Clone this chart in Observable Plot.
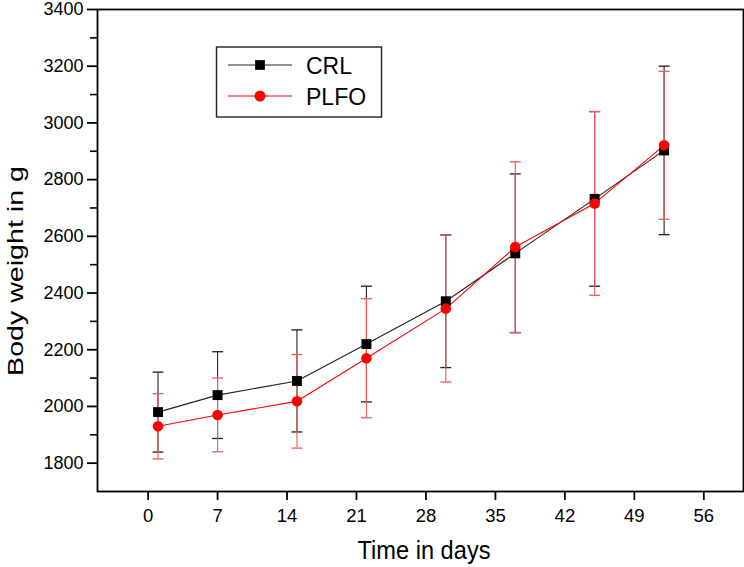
<!DOCTYPE html>
<html>
<head>
<meta charset="utf-8">
<script src="https://cdn.jsdelivr.net/npm/d3@7"></script>
<script src="https://cdn.jsdelivr.net/npm/@observablehq/plot@0.6"></script>
<style>
  body { margin: 0; background: #fff; }
  #wrap { position: relative; width: 744px; height: 567px; font-family: "Liberation Sans", Arial, sans-serif; }
  #legend { position: absolute; left: 0; top: 0; }
</style>
</head>
<body>
<div id="wrap"></div>
<script>
// ---- data ----
const days = [1, 7, 15, 22, 30, 37, 45, 52];
const crlMean = [1980, 2040, 2090, 2220, 2371, 2540, 2732, 2903];
const crlSD = [141, 153, 180, 204, 234, 280, 308, 297];
const plfoMean = [1930, 1970, 2018, 2170, 2345, 2562, 2716, 2921];
const plfoSD = [115, 130, 165, 210, 259, 301, 324, 261];
const seriesNames = ["CRL", "PLFO"];
const xTicks = [0, 7, 14, 21, 28, 35, 42, 49, 56];
const yTicks = [1800, 2000, 2200, 2400, 2600, 2800, 3000, 3200, 3400];
const yMinor = [1900, 2100, 2300, 2500, 2700, 2900, 3100, 3300];
const xTitle = "Time in days";
const yTitle = "Body weight in g";

const crl = days.map((d, i) => ({day: d, mean: crlMean[i], lo: crlMean[i] - crlSD[i], hi: crlMean[i] + crlSD[i]}));
const plfo = days.map((d, i) => ({day: d, mean: plfoMean[i], lo: plfoMean[i] - plfoSD[i], hi: plfoMean[i] + plfoSD[i]}));

const capSymbol = {
  draw(ctx, size) {
    const w = Math.sqrt(size / Math.PI);
    ctx.moveTo(-w, 0);
    ctx.lineTo(w, 0);
  }
};

const black = "#000000";
const blackErr = "#222222";
const red = "#ff0000";
const redErr = "#f25a5a";

const chart = Plot.plot({
  width: 744,
  height: 567,
  marginLeft: 97,
  marginRight: 1,
  marginTop: 9,
  marginBottom: 76,
  style: {fontFamily: "'Liberation Sans', Arial, sans-serif", background: "#fff", color: "#000"},
  x: {domain: [-5.1, 60], ticks: xTicks},
  y: {domain: [1700, 3400], ticks: yTicks},
  marks: [
    Plot.axisX({ticks: xTicks, tickSize: 9, tickPadding: 8, fontSize: 18.5, label: null, strokeWidth: 1.8, stroke: "#000", tickFormat: d3.format("d")}),
    Plot.axisY({ticks: yTicks, tickSize: 10, tickPadding: 4, fontSize: 18, label: null, strokeWidth: 1.8, stroke: "#000", tickFormat: d3.format("d")}),
    Plot.axisY({ticks: yMinor, tickSize: 7, text: null, label: null, strokeWidth: 1.6, stroke: "#000"}),
    // CRL error bars
    Plot.ruleX(crl, {x: "day", y1: "lo", y2: "hi", stroke: blackErr, strokeWidth: 1.1}),
    Plot.dot(crl, {x: "day", y: "lo", symbol: capSymbol, r: 5.5, stroke: blackErr, strokeWidth: 1.3, fill: "none"}),
    Plot.dot(crl, {x: "day", y: "hi", symbol: capSymbol, r: 5.5, stroke: blackErr, strokeWidth: 1.3, fill: "none"}),
    // PLFO error bars
    Plot.ruleX(plfo, {x: "day", y1: "lo", y2: "hi", stroke: redErr, strokeWidth: 1.1}),
    Plot.dot(plfo, {x: "day", y: "lo", symbol: capSymbol, r: 5.5, stroke: redErr, strokeWidth: 1.3, fill: "none"}),
    Plot.dot(plfo, {x: "day", y: "hi", symbol: capSymbol, r: 5.5, stroke: redErr, strokeWidth: 1.3, fill: "none"}),
    // lines
    Plot.line(crl, {x: "day", y: "mean", stroke: "#222", strokeWidth: 1.1}),
    Plot.line(plfo, {x: "day", y: "mean", stroke: red, strokeWidth: 1.1}),
    // markers
    Plot.dot(crl, {x: "day", y: "mean", symbol: "square", r: 5.6, fill: black, stroke: "none"}),
    Plot.dot(plfo, {x: "day", y: "mean", symbol: "circle", r: 5.3, fill: red, stroke: "none"}),
    Plot.frame({stroke: "#000", strokeWidth: 1.8})
  ]
});

const wrap = document.getElementById("wrap");
wrap.appendChild(chart);

const svg = d3.select(chart);
svg.append("text")
  .attr("transform", "translate(424,559) scale(1.05,1.15)")
  .attr("text-anchor", "middle")
  .attr("font-size", 22.5)
  .attr("fill", "#000")
  .text(xTitle);
svg.append("text")
  .attr("transform", "translate(23,271) rotate(-90) scale(1.3,1)")
  .attr("text-anchor", "middle")
  .attr("font-size", 22)
  .attr("fill", "#000")
  .text(yTitle);

// legend
const lg = d3.select(wrap).append("svg")
  .attr("id", "legend")
  .attr("width", 744).attr("height", 567)
  .style("pointer-events", "none");
lg.append("rect").attr("x", 216.5).attr("y", 47).attr("width", 165).attr("height", 70)
  .attr("fill", "#fff").attr("stroke", "#222").attr("stroke-width", 1.4);
const legendItems = [
  {name: seriesNames[0], color: "#222", fill: black, symbol: d3.symbolSquare, y: 65},
  {name: seriesNames[1], color: red, fill: red, symbol: d3.symbolCircle, y: 96}
];
legendItems.forEach(it => {
  lg.append("line").attr("x1", 228).attr("x2", 292).attr("y1", it.y).attr("y2", it.y)
    .attr("stroke", it.color).attr("stroke-width", 1.1);
  lg.append("path").attr("d", d3.symbol(it.symbol, Math.PI * 5.5 * 5.5)())
    .attr("transform", `translate(260,${it.y})`).attr("fill", it.fill);
  lg.append("text").attr("x", 306).attr("y", it.y + 8.5)
    .attr("font-size", 23).attr("fill", "#000")
    .attr("font-family", "'Liberation Sans', Arial, sans-serif")
    .text(it.name);
});
</script>
</body>
</html>
